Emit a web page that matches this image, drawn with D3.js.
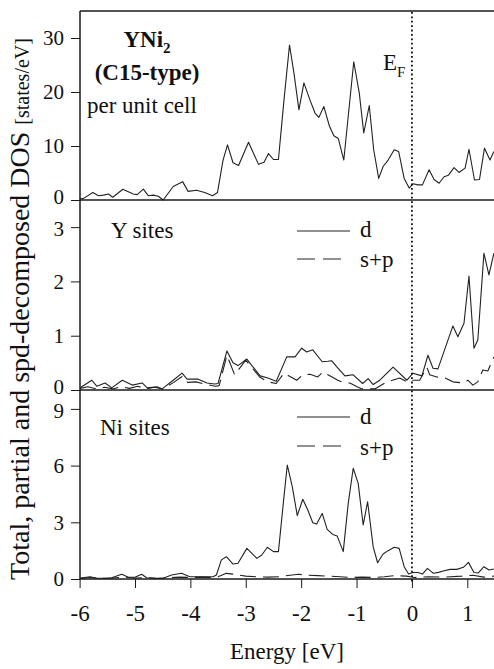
<!DOCTYPE html>
<html>
<head>
<meta charset="utf-8">
<script src="https://cdn.jsdelivr.net/npm/d3@7"></script>
<style>
  html, body { margin: 0; padding: 0; background: #fff; }
  svg text { font-family: "Liberation Serif", "Nimbus Roman", FreeSerif, "Noto Serif", "DejaVu Serif", Tinos, "Times New Roman", serif; fill: #111; }
</style>
</head>
<body>
<svg id="chart" width="494" height="669"></svg>
<script>
// Energy axis ticks (eV)
const energyTicks = [-6, -5, -4, -3, -2, -1, 0, 1];

// Total DOS per unit cell (states/eV)
const totalE   = [-6.0,-5.93,-5.76,-5.66,-5.57,-5.48,-5.40,-5.22,-5.03,-4.96,-4.85,-4.76,-4.67,-4.58,-4.49,-4.31,-4.14,-4.04,-3.89,-3.74,-3.60,-3.51,-3.41,-3.33,-3.23,-3.13,-2.95,-2.77,-2.67,-2.59,-2.50,-2.41,-2.31,-2.21,-2.13,-2.04,-1.95,-1.84,-1.75,-1.68,-1.59,-1.49,-1.41,-1.33,-1.23,-1.05,-0.95,-0.87,-0.77,-0.69,-0.60,-0.52,-0.43,-0.32,-0.24,-0.14,-0.05,0.02,0.11,0.19,0.31,0.40,0.49,0.58,0.66,0.76,0.85,0.96,1.03,1.13,1.22,1.31,1.41,1.48];
const totalDOS = [0.2,0.3,1.4,0.8,0.9,1.1,0.5,2.0,1.1,1.0,2.0,0.8,0.9,0.7,0.0,2.5,3.4,1.6,1.8,1.4,0.8,1.4,7.4,10.2,6.9,6.4,10.7,6.6,7.0,8.6,7.5,7.5,18.5,28.7,23.5,16.7,21.7,18.5,16.1,15.3,17.3,13.7,11.9,11.4,7.4,25.6,19.8,12.4,17.5,9.3,4.0,6.2,7.4,9.3,9.0,4.0,2.2,3.0,2.8,2.8,5.6,3.8,3.1,4.3,4.6,6.0,5.1,5.9,9.4,3.7,3.8,9.6,7.4,9.0];

// Y sites, d partial DOS
const yDE = [-5.99,-5.78,-5.69,-5.54,-5.42,-5.23,-5.05,-4.87,-4.78,-4.60,-4.51,-4.31,-4.15,-4.06,-3.86,-3.70,-3.56,-3.50,-3.34,-3.23,-3.14,-2.98,-2.89,-2.74,-2.60,-2.45,-2.26,-2.11,-1.99,-1.90,-1.79,-1.62,-1.52,-1.45,-1.36,-1.21,-1.06,-0.89,-0.79,-0.70,-0.58,-0.34,-0.09,0.02,0.18,0.29,0.38,0.47,0.74,0.83,0.94,1.03,1.12,1.19,1.30,1.39,1.48];
const yD  = [0.04,0.18,0.07,0.13,0.04,0.18,0.09,0.13,0.04,0.06,0.02,0.18,0.31,0.20,0.20,0.13,0.11,0.12,0.72,0.50,0.45,0.57,0.45,0.26,0.22,0.16,0.61,0.61,0.77,0.70,0.74,0.52,0.53,0.54,0.43,0.26,0.28,0.12,0.21,0.10,0.18,0.42,0.18,0.31,0.26,0.64,0.40,0.39,1.18,0.98,1.23,2.10,0.77,0.92,2.52,2.12,2.52];

// Y sites, s+p partial DOS
const ySpE = [-5.99,-5.85,-5.7,-5.55,-5.4,-5.25,-5.1,-4.95,-4.8,-4.65,-4.5,-4.3,-4.15,-4.05,-3.9,-3.7,-3.55,-3.48,-3.34,-3.2,-3.0,-2.75,-2.6,-2.45,-2.31,-2.08,-1.97,-1.84,-1.70,-1.61,-1.44,-1.34,-1.21,-1.12,-0.99,-0.90,-0.67,-0.45,-0.22,-0.09,0.0,0.14,0.27,0.32,0.45,0.60,0.74,0.92,1.01,1.10,1.19,1.28,1.37,1.48];
const ySp  = [0.03,0.06,0.02,0.05,0.02,0.06,0.03,0.07,0.02,0.05,0.02,0.14,0.25,0.14,0.15,0.10,0.07,0.08,0.64,0.28,0.55,0.24,0.15,0.12,0.31,0.18,0.28,0.29,0.24,0.33,0.24,0.18,0.13,0.13,0.06,0.02,0.02,0.15,0.22,0.15,0.18,0.18,0.42,0.28,0.24,0.22,0.15,0.13,0.18,0.09,0.15,0.37,0.35,0.61];

// Ni sites, d partial DOS
const niDE = [-5.99,-5.81,-5.69,-5.51,-5.42,-5.24,-5.12,-5.00,-4.88,-4.79,-4.61,-4.49,-4.34,-4.16,-4.01,-3.77,-3.59,-3.53,-3.44,-3.35,-3.23,-3.14,-2.98,-2.80,-2.71,-2.61,-2.50,-2.41,-2.31,-2.25,-2.16,-2.07,-1.97,-1.88,-1.79,-1.72,-1.62,-1.53,-1.43,-1.35,-1.24,-1.15,-1.06,-0.97,-0.88,-0.80,-0.70,-0.62,-0.52,-0.43,-0.32,-0.23,-0.14,-0.06,0.02,0.11,0.19,0.28,0.39,0.48,0.58,0.69,0.81,0.93,1.02,1.12,1.20,1.30,1.39,1.48];
const niD  = [0.05,0.12,0.04,0.04,0.07,0.25,0.09,0.09,0.25,0.07,0.04,0.04,0.21,0.30,0.12,0.12,0.12,0.21,1.01,1.18,0.79,0.83,1.62,1.09,1.27,1.68,1.45,1.45,4.36,6.03,4.89,3.35,4.22,3.65,2.98,2.91,3.47,2.63,2.36,2.28,1.45,4.00,5.86,5.06,2.86,4.09,1.71,0.86,1.32,1.50,1.68,1.62,0.65,0.26,0.34,0.34,0.26,0.56,0.30,0.35,0.44,0.51,0.51,0.62,0.88,0.34,0.32,0.65,0.48,0.53];

// Ni sites, s+p partial DOS
const niSpE = [-5.99,-5.8,-5.6,-5.4,-5.2,-5.0,-4.8,-4.6,-4.4,-4.2,-4.0,-3.8,-3.6,-3.5,-3.35,-3.2,-3.0,-2.8,-2.6,-2.4,-2.2,-2.05,-1.9,-1.7,-1.5,-1.3,-1.1,-0.9,-0.7,-0.5,-0.3,-0.1,0.05,0.3,0.6,0.9,1.1,1.3,1.48];
const niSp  = [0.03,0.08,0.03,0.05,0.10,0.05,0.08,0.03,0.06,0.10,0.08,0.10,0.08,0.12,0.30,0.25,0.15,0.12,0.10,0.12,0.20,0.25,0.20,0.18,0.15,0.12,0.08,0.10,0.08,0.12,0.18,0.15,0.08,0.12,0.10,0.15,0.20,0.10,0.15];

// Panel tick values
const totalTicks = [0, 10, 20, 30];
const yTicks = [0, 1, 2, 3];
const niTicks = [0, 3, 6, 9];

const svg = d3.select("#chart");
const ink = "#1a1a1a";
const left = 80, right = 495;
const fs = 23;

const x = d3.scaleLinear().domain([-6, 1.5]).range([79.6, right]);

const panels = [
  { y: d3.scaleLinear().domain([0, 35]).range([200, 11]), ticks: totalTicks },
  { y: d3.scaleLinear().domain([0, 3.5]).range([390, 200]), ticks: yTicks },
  { y: d3.scaleLinear().domain([0, 10]).range([579, 390]), ticks: niTicks }
];

const line = (ys) => d3.line().x(d => x(d[0])).y(d => ys(d[1]));

// Curves
function curve(panel, es, vs, dashed) {
  svg.append("path")
    .datum(d3.zip(es, vs))
    .attr("d", line(panel.y))
    .attr("fill", "none")
    .attr("stroke", "#222")
    .attr("stroke-width", 1.1)
    .attr("stroke-linejoin", "round")
    .attr("stroke-dasharray", dashed ? "16,7" : null);
}
curve(panels[0], totalE, totalDOS, false);
curve(panels[1], yDE, yD, false);
curve(panels[1], ySpE, ySp, true);
curve(panels[2], niDE, niD, false);
curve(panels[2], niSpE, niSp, true);

// Frame: top edge, panel separators, left edge
svg.append("line").attr("x1", left).attr("x2", right).attr("y1", 11).attr("y2", 11)
  .attr("stroke", ink).attr("stroke-width", 1.5);
panels.forEach(p => {
  svg.append("line").attr("x1", left).attr("x2", right)
    .attr("y1", p.y(0)).attr("y2", p.y(0))
    .attr("stroke", ink).attr("stroke-width", 1.5);
});
svg.append("line").attr("x1", left).attr("x2", left).attr("y1", 11).attr("y2", 579)
  .attr("stroke", ink).attr("stroke-width", 1.5);

// Y axes; the stacked zero labels of the upper panels sit a touch high so they clear the label below
panels.forEach((p, i) => {
  const g = svg.append("g").attr("transform", `translate(${left},0)`)
    .call(d3.axisLeft(p.y).tickValues(p.ticks).tickSize(9).tickPadding(7).tickFormat(d3.format("d")));
  g.attr("font-family", null).attr("font-size", null);
  g.select(".domain").remove();
  g.selectAll(".tick line").attr("stroke", ink).attr("stroke-width", 1);
  g.selectAll(".tick text").attr("font-size", 21).attr("fill", "#111")
    .attr("y", d => (i < 2 && d === 0) ? -3 : (d === p.ticks[p.ticks.length - 1] && i > 0 ? 2 : 0));
});

// X axis
const gx = svg.append("g").attr("transform", `translate(0,579)`)
  .call(d3.axisBottom(x).tickValues(energyTicks).tickSize(9).tickPadding(17)
    .tickFormat(d => d < 0 ? "-" + Math.abs(d) : String(d)));
gx.attr("font-family", null).attr("font-size", null);
gx.select(".domain").remove();
gx.selectAll(".tick line").attr("stroke", ink).attr("stroke-width", 1);
gx.selectAll(".tick text").attr("font-size", fs).attr("fill", "#111");

// Fermi level
svg.append("line").attr("x1", x(0)).attr("x2", x(0)).attr("y1", 12).attr("y2", 584)
  .attr("stroke", "#111").attr("stroke-width", 1.8).attr("stroke-dasharray", "1.8,2.6");

const ef = svg.append("text").attr("x", 383).attr("y", 70).attr("font-size", fs);
ef.append("tspan").text("E");
ef.append("tspan").attr("font-size", 15).attr("dy", 7).text("F");

// Panel annotations
const t1 = svg.append("text").attr("x", 147).attr("y", 47).attr("text-anchor", "middle")
  .attr("font-size", fs).attr("font-weight", "bold");
t1.append("tspan").text("YNi");
t1.append("tspan").attr("font-size", 15).attr("dy", 6).text("2");
svg.append("text").attr("x", 147).attr("y", 80).attr("text-anchor", "middle")
  .attr("font-size", fs).attr("font-weight", "bold").text("(C15-type)");
svg.append("text").attr("x", 87).attr("y", 113).attr("font-size", fs).text("per unit cell");

svg.append("text").attr("x", 111).attr("y", 238).attr("font-size", fs).text("Y sites");
svg.append("text").attr("x", 100).attr("y", 435).attr("font-size", fs).text("Ni sites");

// Legends
function legend(ySolid, yDash, yTextD, yTextSp) {
  svg.append("line").attr("x1", 297).attr("x2", 350).attr("y1", ySolid).attr("y2", ySolid)
    .attr("stroke", "#222").attr("stroke-width", 1.1);
  svg.append("line").attr("x1", 297).attr("x2", 343).attr("y1", yDash).attr("y2", yDash)
    .attr("stroke", "#222").attr("stroke-width", 1.1).attr("stroke-dasharray", "18,8");
  svg.append("text").attr("x", 360).attr("y", yTextD).attr("font-size", fs).text("d");
  svg.append("text").attr("x", 360).attr("y", yTextSp).attr("font-size", fs).text("s+p");
}
legend(231, 259, 237, 267);
legend(417, 446, 424, 455);

// Axis titles
svg.append("text").attr("x", 287).attr("y", 659).attr("text-anchor", "middle")
  .attr("font-size", fs).text("Energy [eV]");

const yl = svg.append("text")
  .attr("transform", "translate(29,309) rotate(-90)")
  .attr("text-anchor", "middle").attr("font-size", 28);
yl.append("tspan").text("Total, partial and spd-decomposed DOS ");
yl.append("tspan").attr("font-size", 20).text("[states/eV]");
</script>
</body>
</html>
